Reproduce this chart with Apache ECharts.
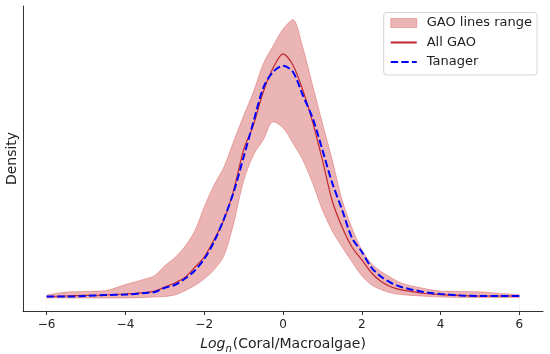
<!DOCTYPE html>
<html>
<head>
<meta charset="utf-8">
<script src="https://cdn.jsdelivr.net/npm/echarts@6/dist/echarts.min.js"></script>
<style>
html,body{margin:0;padding:0;background:#fff;}
#chart{width:550px;height:354px;}
</style>
</head>
<body>
<div id="chart"></div>
<script>
// x grid (Log_n(Coral/Macroalgae))
var xs = [-6,-5.5,-5,-4.5,-4,-3.5,-3.25,-3,-2.75,-2.5,-2.25,-2,-1.75,-1.5,-1.25,-1,-0.75,-0.5,-0.25,0,0.25,0.5,0.75,1,1.25,1.5,1.75,2,2.25,2.5,2.75,3,3.25,3.5,3.75,4,4.5,5,5.5,6];
// GAO lines range: upper and lower envelope
var rangeUpper = [0.010,0.0175,0.019,0.021,0.036,0.050,0.059,0.083,0.103,0.130,0.168,0.230,0.285,0.330,0.395,0.458,0.518,0.588,0.633,0.675,0.698,0.630,0.535,0.440,0.348,0.248,0.178,0.123,0.088,0.068,0.053,0.040,0.033,0.028,0.023,0.020,0.019,0.018,0.014,0.011];
var rangeLower = [0.0025,0.0025,0.0025,0.0025,0.0025,0.004,0.005,0.006,0.010,0.020,0.033,0.050,0.073,0.108,0.190,0.295,0.360,0.398,0.443,0.428,0.390,0.348,0.290,0.223,0.170,0.130,0.093,0.058,0.035,0.023,0.015,0.011,0.009,0.0075,0.006,0.005,0.004,0.004,0.004,0.004];
// All GAO
var allGao = [0.006,0.0075,0.009,0.010,0.0125,0.016,0.020,0.030,0.040,0.053,0.078,0.105,0.148,0.198,0.273,0.373,0.435,0.518,0.578,0.613,0.585,0.523,0.443,0.348,0.245,0.180,0.130,0.098,0.065,0.043,0.030,0.023,0.019,0.015,0.0125,0.011,0.009,0.0075,0.0075,0.0075];
// Tanager
var tanager = [0.006,0.006,0.0075,0.010,0.011,0.015,0.0175,0.028,0.035,0.050,0.070,0.100,0.143,0.200,0.268,0.355,0.443,0.528,0.568,0.583,0.568,0.510,0.453,0.373,0.290,0.223,0.153,0.118,0.078,0.055,0.040,0.030,0.024,0.019,0.015,0.0125,0.009,0.0075,0.0075,0.0075];
var xTicks = [-6,-4,-2,0,2,4,6];

function pairs(a){ return xs.map(function(x,i){ return [x,a[i]]; }); }

var FONT = 'DejaVu Sans';
var bandFill = 'rgb(236,181,181)';
var bandEdge = 'rgba(205,60,60,0.35)';

var chart = echarts.init(document.getElementById('chart'), null, {renderer:'canvas'});
chart.setOption({
  animation:false,
  backgroundColor:'#fff',
  textStyle:{fontFamily:FONT},
  grid:{left:23, right:7, top:6, bottom:43, containLabel:false, outerBoundsMode:'none'},
  legend:{
    orient:'vertical', right:13, top:12.5,
    padding:[3,5,5.5,6],
    itemWidth:26, itemHeight:9, itemGap:4.5,
    borderColor:'#d5d5d5', borderWidth:1, borderRadius:3,
    backgroundColor:'rgba(255,255,255,0.8)',
    textStyle:{fontFamily:FONT, fontSize:13, color:'#222', lineHeight:15, padding:[0,0,0,5]},
    data:[
      {name:'GAO lines range', icon:'rect', itemStyle:{color:bandFill, borderColor:bandEdge, borderWidth:1}},
      {name:'All GAO', itemStyle:{opacity:0}},
      {name:'Tanager', itemStyle:{opacity:0}}
    ]
  },
  xAxis:{
    type:'value', min:-6.6, max:6.6,
    name:'{i|Log}{s|n}{r|(Coral/Macroalgae)}',
    nameLocation:'middle', nameGap:23,
    nameTextStyle:{
      rich:{
        i:{fontFamily:FONT, fontStyle:'italic', fontSize:14, color:'#222', lineHeight:20, verticalAlign:'middle'},
        s:{fontFamily:FONT, fontStyle:'italic', fontSize:10, color:'#222', lineHeight:20, verticalAlign:'bottom', padding:[0,1,0,0]},
        r:{fontFamily:FONT, fontSize:14, color:'#222', lineHeight:20, verticalAlign:'middle'}
      }
    },
    axisLine:{show:true, onZero:false, lineStyle:{color:'#333', width:1}},
    axisTick:{show:true, length:4, inside:false, customValues:xTicks, lineStyle:{color:'#333'}},
    axisLabel:{customValues:xTicks, fontFamily:FONT, fontSize:12, color:'#222', margin:8,
      formatter:function(v){ return v<0 ? '\u2212'+(-v) : String(v); }},
    splitLine:{show:false}
  },
  yAxis:{
    type:'value', min:-0.03, max:0.7325,
    name:'Density', nameLocation:'middle', nameGap:4,
    nameTextStyle:{fontFamily:FONT, fontSize:14, color:'#222'},
    axisLine:{show:true, onZero:false, lineStyle:{color:'#333', width:1}},
    axisTick:{show:false}, axisLabel:{show:false}, splitLine:{show:false}
  },
  series:[
    {name:'GAO lines range', type:'line', data:pairs(rangeUpper), showSymbol:false, symbol:'none',
      smooth:0.3, itemStyle:{color:bandFill}, lineStyle:{color:bandEdge, width:1},
      areaStyle:{color:bandFill, opacity:1, origin:'start'}, silent:true, z:1},
    {name:'lower', type:'line', data:pairs(rangeLower), showSymbol:false, symbol:'none',
      smooth:0.3, lineStyle:{color:bandEdge, width:1}, areaStyle:{color:'#ffffff', opacity:1, origin:'start'},
      silent:true, z:2},
    {name:'All GAO', type:'line', data:pairs(allGao), showSymbol:false, symbol:'none', smooth:0.3,
      itemStyle:{color:'#c1272d'}, lineStyle:{color:'#c1272d', width:1.2}, z:3},
    {name:'Tanager', type:'line', data:pairs(tanager), showSymbol:false, symbol:'none', smooth:0.3,
      itemStyle:{color:'#0000ff'}, lineStyle:{color:'#0000ff', width:2, type:[7.4,3.2]}, z:4}
  ]
});
</script>
</body>
</html>
